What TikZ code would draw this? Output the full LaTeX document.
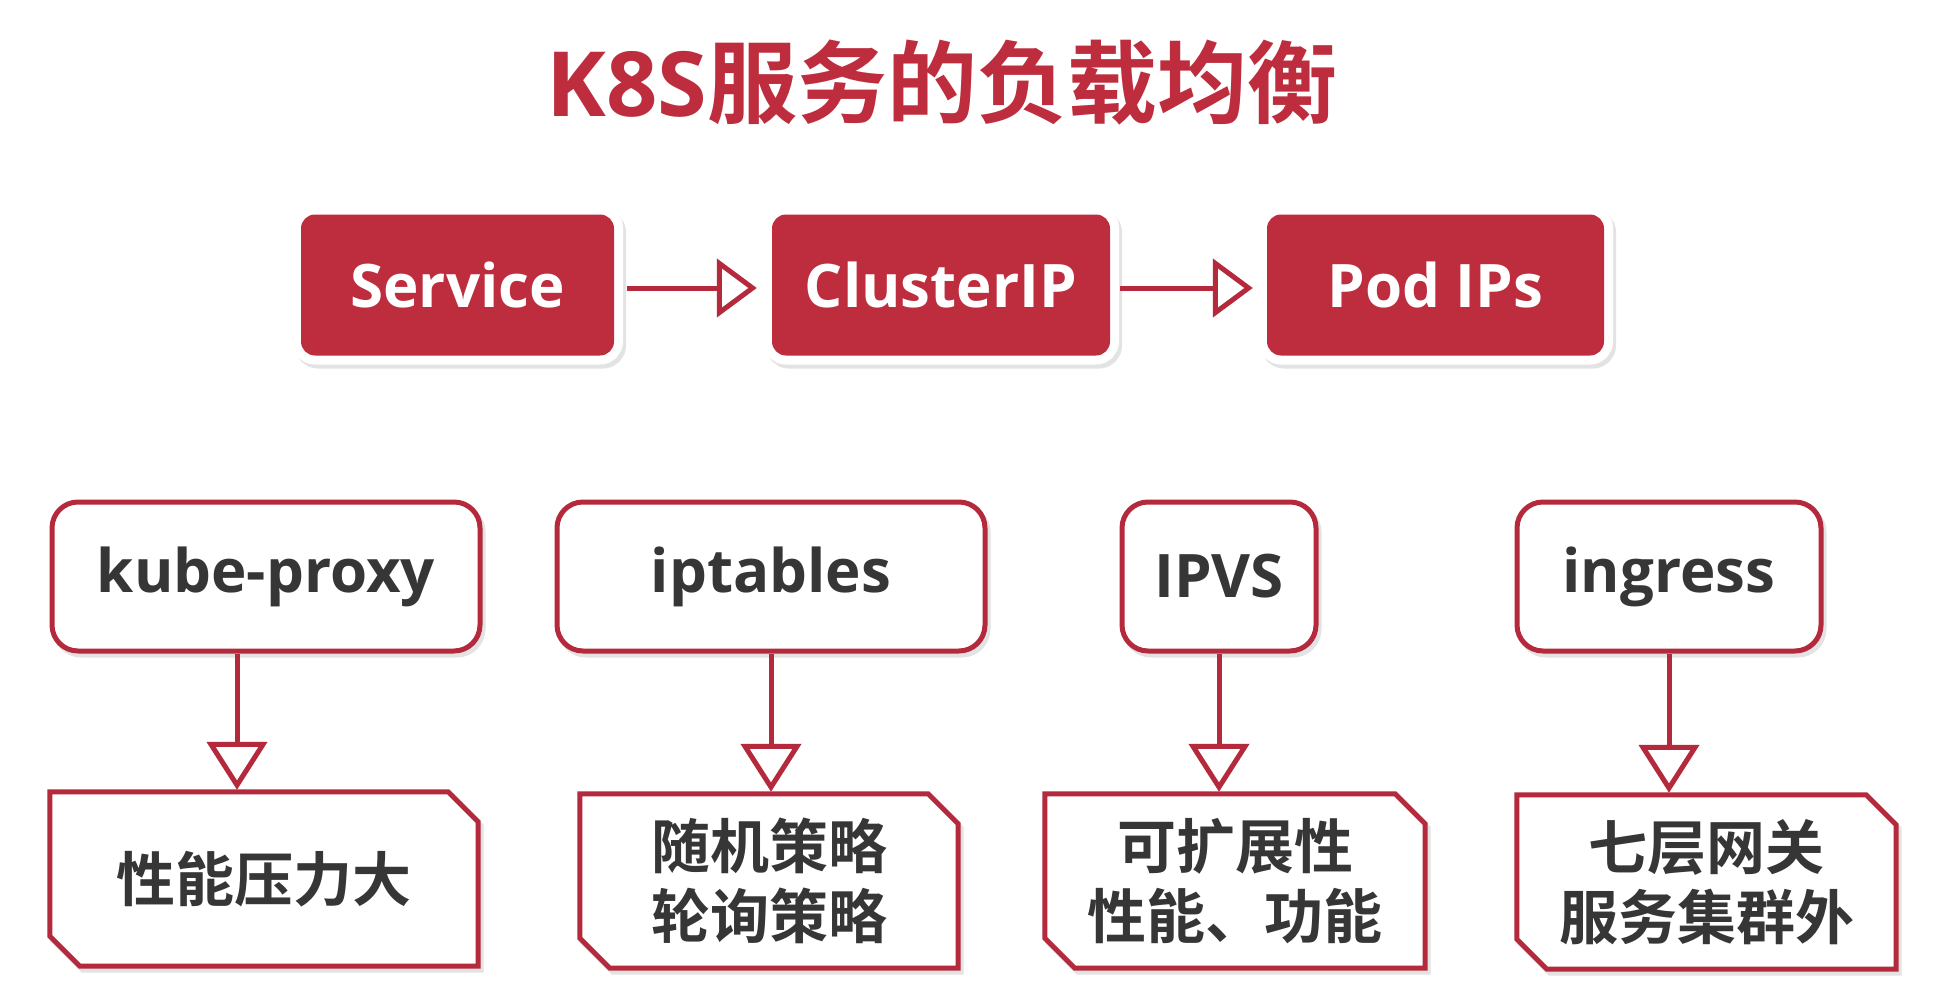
\documentclass[tikz,border=0pt]{standalone}
\usepackage{fontspec}
\setmainfont{Open Sans}
\newfontfamily\cjk{Noto Sans CJK SC}[BoldFont={Noto Sans CJK SC Bold}]
\usetikzlibrary{arrows.meta,backgrounds}

\definecolor{kred}{HTML}{BE2D3E}
\definecolor{kline}{HTML}{B42A3C}
\definecolor{kdark}{HTML}{363636}

\pgfdeclarelayer{paper}
\pgfsetlayers{paper,background,main}

\tikzset{
  softshadow/.style={preaction={fill=black!11, draw=black!11, line width=#1,
      transform canvas={xshift=3pt, yshift=-4pt}}},
  title/.style={text=kred, inner sep=0pt,
      font=\bfseries\fontsize{90}{100}\selectfont},
  redbox/.style={softshadow=18pt, preaction={draw=white, line width=18pt},
      fill=kred, rounded corners=14pt, minimum height=141pt, inner sep=0pt,
      text=white, font=\bfseries\fontsize{60}{72}\selectfont},
  wbox/.style={softshadow=5pt, draw=kline, line width=5pt, fill=white,
      rounded corners=26pt, minimum height=149pt, inner sep=0pt,
      text=kdark, font=\bfseries\fontsize{60}{72}\selectfont},
  snip/.style={minimum height=174pt, inner sep=0pt, align=center,
      text=kdark, font={\cjk\bfseries\fontsize{59}{70}\selectfont}},
  snipline/.style={softshadow=5pt, draw=kline, line width=5pt, fill=white,
      line join=miter},
  harrow/.style={draw=kline, line width=5pt,
      -{Triangle[fill=white, length=40pt, width=58pt]}},
  varrow/.style={draw=kline, line width=5pt,
      -{Triangle[fill=white, length=48pt, width=60pt]}},
}

\begin{document}
\begin{tikzpicture}[x=1pt, y=-1pt]
\begin{pgfonlayer}{paper}
  \fill[white] (0,0) rectangle (1946,1006);
\end{pgfonlayer}
\useasboundingbox (0,0) rectangle (1946,1006);

% heading
\node[title] (ttl) at (942,83) {K8S{\cjk 服务的负载均衡}};

% request path
\node[redbox, minimum width=313pt] (svc) at (457.5,285) {Service};
\node[redbox, minimum width=338pt] (cip) at (941,285)   {ClusterIP};
\node[redbox, minimum width=337pt] (pod) at (1435.5,285) {Pod IPs};

\draw[harrow, shorten <=13pt, shorten >=15pt]
  ([yshift=-3pt]svc.east) -- ([yshift=-3pt]cip.west);
\draw[harrow, shorten <=10pt, shorten >=14pt]
  ([yshift=-3pt]cip.east) -- ([yshift=-3pt]pod.west);

% load-balancing mechanisms
\node[wbox, minimum width=428pt] (kp)   at (266,576.5)  {kube-proxy};
\node[wbox, minimum width=428pt] (ipt)  at (771,576.5)  {iptables};
\node[wbox, minimum width=194pt] (ipvs) at (1219,576.5) {IPVS};
\node[wbox, minimum width=304pt] (ing)  at (1669,576.5) {ingress};

% notes on each mechanism
\node[snip, minimum width=428pt] (kpn)   at (264,879)    {性能压力大};
\node[snip, minimum width=378pt] (iptn)  at (769,881)    {随机策略\\轮询策略};
\node[snip, minimum width=380pt] (ipvsn) at (1235,881)   {可扩展性\\性能、功能};
\node[snip, minimum width=379pt] (ingn)  at (1706.5,882) {七层网关\\服务集群外};

\begin{pgfonlayer}{background}
  \foreach \n in {kpn,iptn,ipvsn,ingn}
    \draw[snipline] (\n.north west) -- ([xshift=-30pt]\n.north east)
      -- ([yshift=-30pt]\n.north east) -- (\n.south east)
      -- ([xshift=30pt]\n.south west) -- ([yshift=30pt]\n.south west) -- cycle;
\end{pgfonlayer}

\coordinate (kpx) at ([xshift=-29pt]kp.south);
\draw[varrow, shorten >=2pt] (kpx) -- (kpx |- kpn.north);
\draw[varrow, shorten >=2pt] (ipt.south) -- (ipt.south |- iptn.north);
\draw[varrow, shorten >=2pt] (ipvs.south) -- (ipvs.south |- ipvsn.north);
\draw[varrow, shorten >=2pt] (ing.south) -- (ing.south |- ingn.north);
\end{tikzpicture}
\end{document}
